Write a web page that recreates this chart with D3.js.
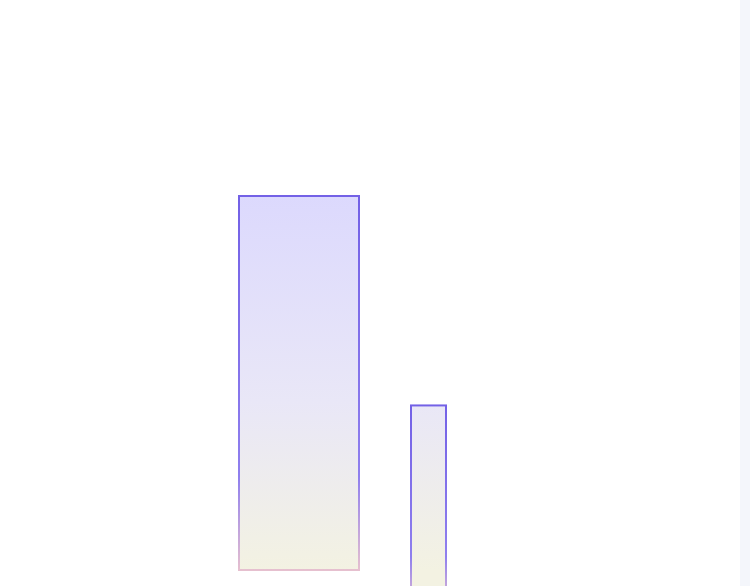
<!DOCTYPE html>
<html>
<head>
<meta charset="utf-8">
<script src="https://cdn.jsdelivr.net/npm/d3@7"></script>
<style>
  html, body { margin: 0; padding: 0; background: #fff; overflow: hidden; }
</style>
</head>
<body>
<div id="chart"></div>
<script>
// bar data: horizontal extent (x units) and vertical extent (value units)
const categories = ["A", "B"]
const starts = [47.8, 82.2]
const ends = [71.8, 89.2]
const lows = [0, -10]
const highs = [100, 44]

const data = categories.map((c, i) => ({key: c, x0: starts[i], x1: ends[i], lo: lows[i], hi: highs[i]}))

const width = 750
const height = 586

const svg = d3.select("#chart")
    .append("svg")
    .attr("width", width)
    .attr("height", height)
    .attr("viewBox", [0, 0, width, height])

const x = d3.scaleLinear()
    .domain([0, 150])
    .range([0, width])

const y = d3.scaleLinear()
    .domain([0, 100])
    .range([570, 196])

const defs = svg.append("defs")

// fill shares one vertical span so both bars fade the same way
const fillGrad = defs.append("linearGradient")
    .attr("id", "barFill")
    .attr("gradientUnits", "userSpaceOnUse")
    .attr("x1", 0).attr("y1", y(100)).attr("x2", 0).attr("y2", y(0))
fillGrad.append("stop").attr("offset", "0%").attr("stop-color", "#dcd9fd")
fillGrad.append("stop").attr("offset", "55%").attr("stop-color", "#e9e7f7")
fillGrad.append("stop").attr("offset", "100%").attr("stop-color", "#f3f2e2")

// stroke fades per bar
const strokeGrad = defs.append("linearGradient")
    .attr("id", "barStroke")
    .attr("x1", 0).attr("y1", 0).attr("x2", 0).attr("y2", 1)
strokeGrad.append("stop").attr("offset", "0%").attr("stop-color", "#7361e6")
strokeGrad.append("stop").attr("offset", "75%").attr("stop-color", "#8f7fee")
strokeGrad.append("stop").attr("offset", "100%").attr("stop-color", "#e6c0cf")

// faint right edge strip
svg.append("rect")
    .attr("x", x(148))
    .attr("y", 0)
    .attr("width", x(150) - x(148))
    .attr("height", height)
    .attr("fill", "#f4f6fb")

svg.append("g")
    .selectAll("rect")
    .data(data)
    .join("rect")
    .attr("x", d => x(d.x0))
    .attr("y", d => y(d.hi))
    .attr("width", d => x(d.x1) - x(d.x0))
    .attr("height", d => y(d.lo) - y(d.hi))
    .attr("fill", "url(#barFill)")
    .attr("stroke", "url(#barStroke)")
    .attr("stroke-width", 2)
</script>
</body>
</html>
